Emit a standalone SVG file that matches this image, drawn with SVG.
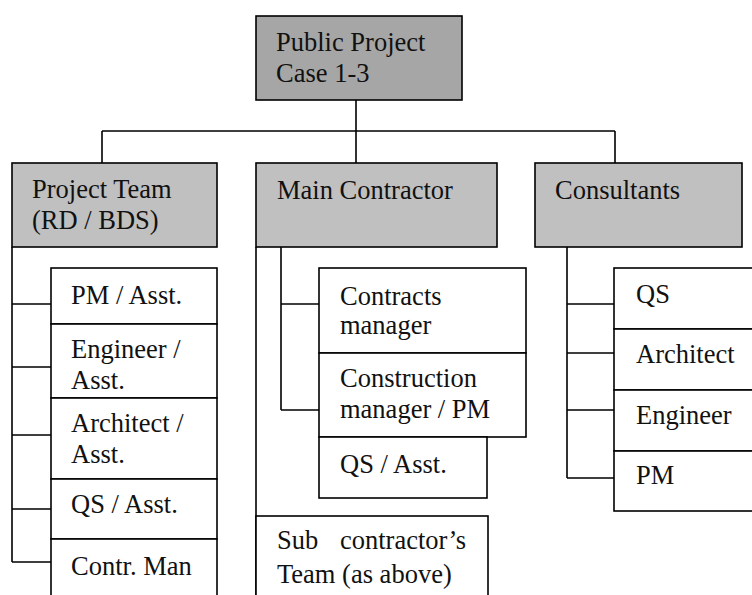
<svg xmlns="http://www.w3.org/2000/svg" width="752" height="595" viewBox="0 0 752 595">
<style>
.b{fill:#fff;stroke:#000;stroke-width:1.6}
.g1{fill:#a6a6a6;stroke:#000;stroke-width:1.6}
.g2{fill:#c0c0c0;stroke:#000;stroke-width:1.6}
.c{fill:none;stroke:#000;stroke-width:1.6}
</style>
<rect width="752" height="595" fill="#fff"/>
<g id="connectors">
<path class="c" d="M356 100V131M102 131H615M102 131V163M356 131V163M615 131V163"/>
<path class="c" d="M12 247V562M12 304H51M12 367H51M12 435H51M12 509H51M12 562H51"/>
<path class="c" d="M256 247V595M281 247V410M281 304H319M281 410H319"/>
<path class="c" d="M567 247V478M567 304H614M567 353H614M567 410H614M567 478H614"/>
</g>
<g font-family="Liberation Serif, Times New Roman, DejaVu Serif, serif" font-size="26.5" fill="#111">
<g id="public-project"><rect class="g1" x="256" y="16" width="206" height="84"/><text x="276" y="51">Public Project</text><text x="276" y="82">Case 1-3</text></g>
<g id="project-team"><rect class="g2" x="12" y="163" width="205" height="84"/><text x="32" y="198">Project Team</text><text x="32" y="229">(RD / BDS)</text></g>
<g id="main-contractor"><rect class="g2" x="256" y="163" width="241" height="84"/><text x="277" y="199">Main Contractor</text></g>
<g id="consultants"><rect class="g2" x="535" y="163" width="207" height="84"/><text x="555" y="199">Consultants</text></g>
<g id="pm-asst"><rect class="b" x="51" y="268" width="166" height="56"/><text x="71" y="304">PM / Asst.</text></g>
<g id="engineer-asst"><rect class="b" x="51" y="324" width="166" height="74"/><text x="71" y="358">Engineer /</text><text x="71" y="389">Asst.</text></g>
<g id="architect-asst"><rect class="b" x="51" y="398" width="166" height="81"/><text x="71" y="432">Architect /</text><text x="71" y="463">Asst.</text></g>
<g id="qs-asst-team"><rect class="b" x="51" y="479" width="166" height="60"/><text x="71" y="513">QS / Asst.</text></g>
<g id="contr-man"><rect class="b" x="51" y="539" width="166" height="70"/><text x="71" y="575">Contr. Man</text></g>
<g id="contracts-manager"><rect class="b" x="319" y="268" width="207" height="85"/><text x="340" y="305">Contracts</text><text x="340" y="334">manager</text></g>
<g id="construction-manager"><rect class="b" x="319" y="353" width="207" height="84"/><text x="340" y="387">Construction</text><text x="340" y="418">manager / PM</text></g>
<g id="qs-asst-mc"><rect class="b" x="319" y="437" width="168" height="61"/><text x="340" y="473">QS / Asst.</text></g>
<g id="sub-contractor"><rect class="b" x="256" y="516" width="232" height="90"/><text x="277" y="549">Sub</text><text x="340" y="549">contractor’s</text><text x="277" y="583">Team (as above)</text></g>
<g id="qs"><rect class="b" x="614" y="268" width="150" height="61"/><text x="636" y="303">QS</text></g>
<g id="architect"><rect class="b" x="614" y="329" width="150" height="61"/><text x="636" y="363">Architect</text></g>
<g id="engineer"><rect class="b" x="614" y="390" width="150" height="61"/><text x="636" y="424">Engineer</text></g>
<g id="pm"><rect class="b" x="614" y="451" width="150" height="60"/><text x="636" y="484">PM</text></g>
</g>
</svg>
